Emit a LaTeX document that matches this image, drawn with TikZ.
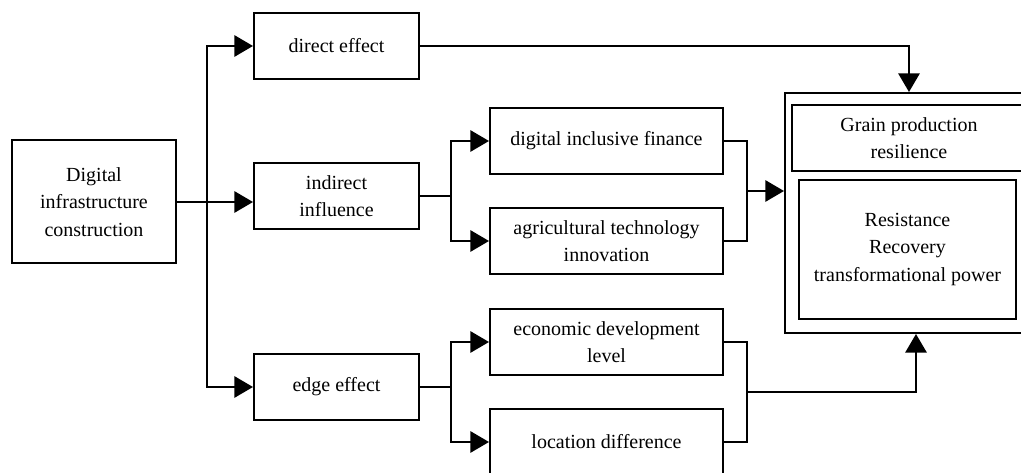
\documentclass[tikz,border=0pt]{standalone}
\usepackage{fontspec}
\setmainfont{Liberation Serif}
\usetikzlibrary{calc}
\usetikzlibrary{positioning}
\usetikzlibrary{arrows.meta}
\tikzstyle{box} = [draw, line width=1.5pt, align=center, inner sep=0pt, font=\fontsize{15}{20.5}\selectfont]
\tikzstyle{smallbox} = [box, minimum width=123.75pt, minimum height=50pt]
\tikzstyle{widebox} = [box, minimum width=174.75pt, minimum height=50pt]
\tikzstyle{wire} = [draw, line width=1.5pt, line join=miter]
\tikzstyle{flow} = [draw, line width=1.5pt, line join=miter, -{Triangle[length=14pt, width=16pt]}]

\begin{document}
\begin{tikzpicture}[x=0.75pt, y=-0.75pt]
    \useasboundingbox (0,0) rectangle (1021,473);

    \node[box, minimum width=123pt, minimum height=92.25pt] (dig_infra) at (94,202) {Digital\\infrastructure\\construction};

    \node[smallbox] (eff_direct) at (336.5,46) {direct effect};
    \node[smallbox] (eff_indirect) at ($(eff_direct)+(0,150)$) {indirect\\influence};
    \node[smallbox] (eff_edge) at ($(eff_direct)+(0,341)$) {edge effect};

    \node[widebox] (ind_finance) at (606.5,141) {digital inclusive finance};
    \node[widebox] (ind_tech) at ($(ind_finance)+(0,100)$) {agricultural technology\\innovation};
    \node[widebox] (edge_econ) at ($(ind_finance)+(0,201)$) {economic development\\level};
    \node[widebox] (edge_loc) at ($(ind_finance)+(0,301)$) {location difference};

    % resilience block
    \node[box, minimum width=186pt, minimum height=180pt] (res_outer) at (909,213) {};
    \node[box, minimum width=175.5pt, minimum height=49.5pt] (res_grain) at (909,138) {Grain production\\resilience};
    \node[box, minimum width=162.75pt, minimum height=104.25pt] (res_power) at (907.5,249.5) {Resistance\\Recovery\\transformational power};

    % trunk from the source box
    \coordinate (trunk) at (207,202);
    \draw[flow] (dig_infra.east) -- (dig_infra.east -| eff_indirect.west);
    \draw[flow] (trunk) |- (eff_direct.west);
    \draw[flow] (trunk) |- (eff_edge.west);
    \draw[flow] (eff_direct.east) -| (res_outer.north);

    % indirect branch
    \coordinate (ind_split) at (451,196);
    \coordinate (ind_join) at (747,191);
    \draw[wire] (eff_indirect.east) -- (ind_split);
    \draw[flow] (ind_split) |- (ind_finance.west);
    \draw[flow] (ind_split) |- (ind_tech.west);
    \draw[wire] (ind_finance.east) -| (ind_join) |- (ind_tech.east);
    \draw[flow] (ind_join) -- (ind_join -| res_outer.west);

    % edge branch
    \coordinate (edge_split) at (451,387);
    \coordinate (edge_join) at (747,392);
    \draw[wire] (eff_edge.east) -- (edge_split);
    \draw[flow] (edge_split) |- (edge_econ.west);
    \draw[flow] (edge_split) |- (edge_loc.west);
    \draw[wire] (edge_econ.east) -| (edge_join) |- (edge_loc.east);
    \draw[flow] (edge_join) -| ($(res_outer.south)+(7,0)$);
\end{tikzpicture}
\end{document}
